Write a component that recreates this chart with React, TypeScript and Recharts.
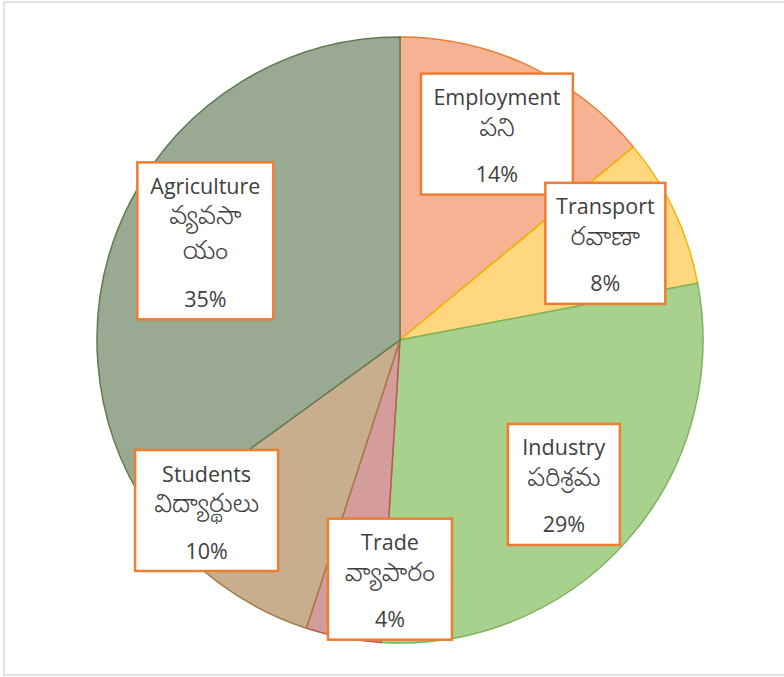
import React from "react";
import { PieChart, Pie, Cell } from "recharts";

const categories = ["Employment", "Transport", "Industry", "Trade", "Students", "Agriculture"];
const teluguNames = [["పని"], ["రవాణా"], ["పరిశ్రమ"], ["వ్యాపారం"], ["విద్యార్థులు"], ["వ్యవసా", "యం"]];
const shares = [14, 8, 29, 4, 10, 35];

const fills = ["#F5B394", "#FFD77F", "#A9D18E", "#D59C9C", "#C8AE8E", "#9AAA92"];
const strokes = ["#ED7D31", "#F2B400", "#7DB35A", "#B8584E", "#A07E45", "#5E7A50"];

// label placement: distance as share of radius, clockwise shift in degrees, box width
const labelRadius = [0.751, 0.749, 0.721, 0.79, 0.851, 0.721];
const labelShift = [0, 0, 0, -8.4, 12.6, 0];
const boxWidth = [152, 120, 112, 124, 143, 136];

const RAD = Math.PI / 180;
const EN_FONT = "'Open Sans', 'Liberation Sans', sans-serif";
const TE_FONT = "'Noto Sans Telugu', 'Lohit Telugu', 'Gautami', 'Noto Sans', sans-serif";

const chartData = categories.map((name, i) => ({
  name,
  telugu: teluguNames[i],
  value: shares[i],
}));

function renderLabel(props: any) {
  const { cx, cy, midAngle, outerRadius, index } = props;
  const d = chartData[index];
  const m = midAngle - labelShift[index];
  const r = outerRadius * labelRadius[index];
  const x = cx + r * Math.cos(-m * RAD);
  const y = cy + r * Math.sin(-m * RAD);
  const h = d.telugu.length > 1 ? 157 : 121;
  const w = boxWidth[index];
  const top = y - h / 2;
  return (
    <g key={`lbl-${index}`}>
      <rect x={x - w / 2} y={top} width={w} height={h} fill="#ffffff" stroke="#ED7D31" strokeWidth={2.5} />
      <text x={x} y={top + 23} textAnchor="middle" dominantBaseline="central" fontFamily={EN_FONT} fontSize={21.5} fill="#404040">
        {d.name}
      </text>
      {d.telugu.map((t, k) => (
        <text key={k} x={x} y={top + 57 + k * 35} textAnchor="middle" dominantBaseline="central" fontFamily={TE_FONT} fontSize={26} fontWeight={300} fill="#404040">
          {t}
        </text>
      ))}
      <text x={x} y={top + h - 21} textAnchor="middle" dominantBaseline="central" fontFamily={EN_FONT} fontSize={21.5} fill="#404040">
        {`${d.value}%`}
      </text>
    </g>
  );
}

export default function App() {
  return (
    <div style={{ position: "absolute", left: 0, top: 0, width: 784, height: 677, background: "#fff" }}>
      <svg width={784} height={677} style={{ position: "absolute", left: 0, top: 0 }}>
        <rect x={4} y={2} width={800} height={673} fill="none" stroke="#d9d9d9" strokeWidth={1.5} />
      </svg>
      <div style={{ position: "absolute", left: 0, top: 0 }}>
        <PieChart width={784} height={677} margin={{ top: 0, right: 0, bottom: 0, left: 0 }}>
          <Pie
            data={chartData}
            dataKey="value"
            nameKey="name"
            cx={400}
            cy={340}
            outerRadius={303}
            startAngle={90}
            endAngle={-270}
            label={renderLabel}
            labelLine={false}
            isAnimationActive={false}
          >
            {chartData.map((d, i) => (
              <Cell key={d.name} fill={fills[i]} stroke={strokes[i]} strokeWidth={1.5} />
            ))}
          </Pie>
        </PieChart>
      </div>
    </div>
  );
}
